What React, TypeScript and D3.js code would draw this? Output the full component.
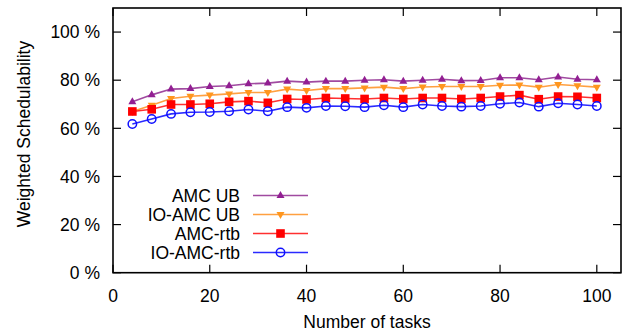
import React, { useEffect, useRef } from "react";
import * as d3 from "d3";

// number of tasks (x) and weighted schedulability in % per method
const tasks = [4, 8, 12, 16, 20, 24, 28, 32, 36, 40, 44, 48, 52, 56, 60, 64, 68, 72, 76, 80, 84, 88, 92, 96, 100];
const amcUb = [71.0, 73.9, 76.3, 76.5, 77.4, 77.7, 78.5, 78.8, 79.6, 79.2, 79.6, 79.6, 80.0, 80.2, 79.6, 80.0, 80.4, 79.8, 79.9, 81.0, 81.0, 80.2, 81.3, 80.4, 80.2];
const ioAmcUb = [67.0, 69.6, 72.4, 73.3, 73.8, 74.3, 74.9, 74.9, 76.3, 75.7, 76.5, 76.5, 76.8, 77.1, 76.5, 77.2, 77.4, 77.4, 77.4, 77.9, 78.0, 77.1, 78.2, 77.7, 77.1];
const amcRtb = [67.0, 67.9, 69.9, 69.9, 70.2, 71.0, 71.3, 70.6, 72.2, 72.0, 72.6, 72.4, 72.2, 72.6, 72.2, 72.6, 72.6, 72.2, 72.6, 73.2, 73.8, 72.1, 73.2, 73.1, 72.6];
const ioAmcRtb = [61.8, 63.9, 66.0, 66.7, 66.8, 67.1, 67.8, 67.1, 68.8, 68.5, 69.3, 69.2, 68.8, 69.6, 68.8, 69.9, 69.3, 69.0, 69.3, 70.2, 70.7, 69.0, 70.4, 69.9, 69.3];

const seriesNames = ["AMC UB", "IO-AMC UB", "AMC-rtb", "IO-AMC-rtb"];
const xTicks = [0, 20, 40, 60, 80, 100];
const yTicks = [0, 20, 40, 60, 80, 100];

const FONT = "'Liberation Sans', Arial, sans-serif";

export default function App() {
  const ref = useRef<SVGSVGElement>(null);

  useEffect(() => {
    const width = 641;
    const height = 334;
    const margin = { top: 8, right: 20, bottom: 61.3, left: 113 };
    const innerWidth = width - margin.left - margin.right;
    const innerHeight = height - margin.top - margin.bottom;

    const svg = d3.select(ref.current).attr("width", width).attr("height", height);
    svg.selectAll("*").remove();

    const g = svg.append("g").attr("transform", `translate(${margin.left}, ${margin.top})`);

    const x = d3.scaleLinear().domain([0, 105]).range([0, innerWidth]);
    const y = d3.scaleLinear().domain([0, 110]).range([innerHeight, 0]);

    const tickLen = 8;

    // ticks, mirrored on both sides, pointing inward
    xTicks.forEach((t) => {
      g.append("line").attr("x1", x(t)).attr("x2", x(t)).attr("y1", innerHeight).attr("y2", innerHeight - tickLen)
        .attr("stroke", "#000").attr("stroke-width", 1.2);
      g.append("line").attr("x1", x(t)).attr("x2", x(t)).attr("y1", 0).attr("y2", tickLen)
        .attr("stroke", "#000").attr("stroke-width", 1.2);
      g.append("text").attr("x", x(t)).attr("y", innerHeight + 29.5)
        .attr("text-anchor", "middle").style("font-family", FONT).style("font-size", "17.5px")
        .text(t);
    });
    yTicks.forEach((t) => {
      g.append("line").attr("x1", 0).attr("x2", tickLen).attr("y1", y(t)).attr("y2", y(t))
        .attr("stroke", "#000").attr("stroke-width", 1.2);
      g.append("line").attr("x1", innerWidth).attr("x2", innerWidth - tickLen).attr("y1", y(t)).attr("y2", y(t))
        .attr("stroke", "#000").attr("stroke-width", 1.2);
      g.append("text").attr("x", -13).attr("y", y(t)).attr("dy", "0.36em")
        .attr("text-anchor", "end").style("font-family", FONT).style("font-size", "17.5px")
        .text(`${t} %`);
    });

    // frame
    g.append("rect").attr("x", 0).attr("y", 0).attr("width", innerWidth).attr("height", innerHeight)
      .attr("fill", "none").attr("stroke", "#000").attr("stroke-width", 1.6);

    const triUp = "M0,-4.5L4,2.5L-4,2.5Z";
    const triDown = "M0,4.5L4,-2.5L-4,-2.5Z";

    const series = [
      { name: seriesNames[0], values: amcUb, color: "#921f92", line: "#a04aa0", marker: "triUp" },
      { name: seriesNames[1], values: ioAmcUb, color: "#ff961e", line: "#ffa040", marker: "triDown" },
      { name: seriesNames[2], values: amcRtb, color: "#ff0000", line: "#ff3030", marker: "square" },
      { name: seriesNames[3], values: ioAmcRtb, color: "#1010ff", line: "#2a2aff", marker: "circle" },
    ];

    const drawMarker = (sel: any, kind: string, color: string, cx: number, cy: number) => {
      if (kind === "triUp" || kind === "triDown") {
        sel.append("path").attr("d", kind === "triUp" ? triUp : triDown)
          .attr("transform", `translate(${cx},${cy})`).attr("fill", color);
      } else if (kind === "square") {
        sel.append("rect").attr("x", cx - 4.3).attr("y", cy - 4.3).attr("width", 8.6).attr("height", 8.6)
          .attr("fill", color);
      } else {
        sel.append("circle").attr("cx", cx).attr("cy", cy).attr("r", 4.2)
          .attr("fill", "none").attr("stroke", color).attr("stroke-width", 1.5);
      }
    };

    const line = d3.line<number>().x((_, i) => x(tasks[i])).y((d) => y(d));

    series.forEach((s) => {
      const sg = g.append("g");
      sg.append("path").datum(s.values).attr("d", line).attr("fill", "none")
        .attr("stroke", s.line).attr("stroke-width", 1.6);
      s.values.forEach((v, i) => drawMarker(sg, s.marker, s.color, x(tasks[i]), y(v)));
    });

    // legend
    const lg = svg.append("g");
    series.forEach((s, i) => {
      const ly = 195.5 + i * 19;
      lg.append("text").attr("x", 240).attr("y", ly).attr("dy", "0.36em").attr("text-anchor", "end")
        .style("font-family", FONT).style("font-size", "17.5px").text(s.name);
      lg.append("line").attr("x1", 253).attr("x2", 308).attr("y1", ly).attr("y2", ly)
        .attr("stroke", s.line).attr("stroke-width", 1.6);
      drawMarker(lg, s.marker, s.color, 280.5, ly);
    });

    // axis titles
    svg.append("text").attr("x", margin.left + x(52.5)).attr("y", 328)
      .attr("text-anchor", "middle").style("font-family", FONT).style("font-size", "17.5px")
      .text("Number of tasks");
    svg.append("text").attr("transform", "translate(24,134) rotate(-90)").attr("dy", "0.36em")
      .attr("text-anchor", "middle").style("font-family", FONT).style("font-size", "17.5px")
      .text("Weighted Schedulability");
  }, []);

  return (
    <div>
      <svg ref={ref} style={{ position: "absolute", left: 0, top: 0 }}></svg>
    </div>
  );
}
